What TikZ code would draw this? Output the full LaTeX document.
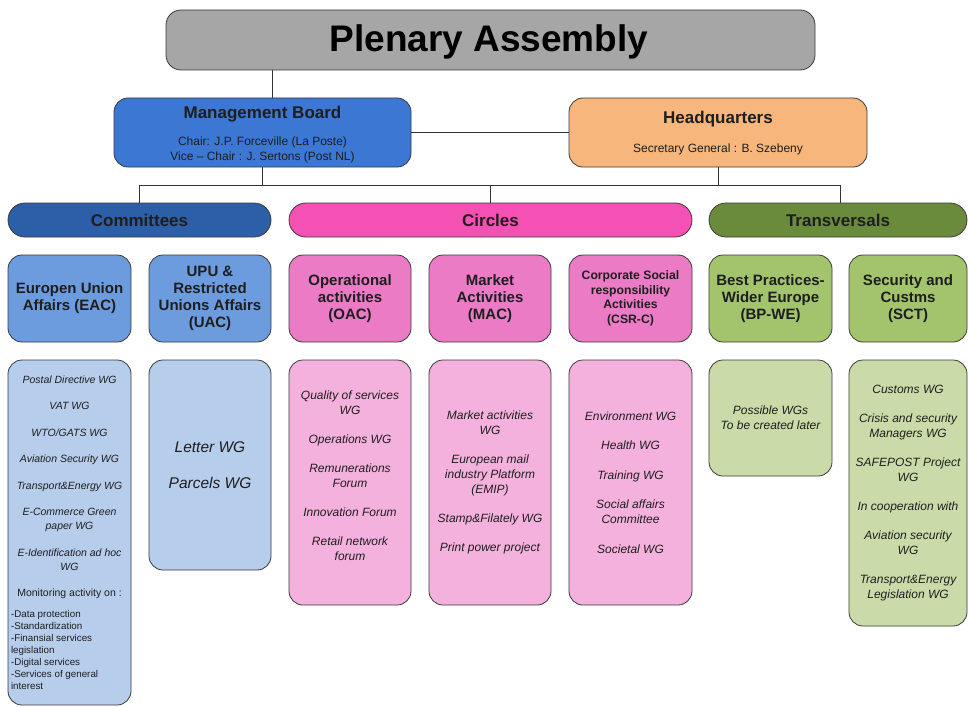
\documentclass[tikz,border=0pt]{standalone}
\usepackage{fontspec}
\setmainfont{Liberation Sans}
\definecolor{plen}{HTML}{A6A6A6}
\definecolor{mbblue}{HTML}{3B77D3}
\definecolor{hqor}{HTML}{F6B67C}
\definecolor{comc}{HTML}{2D5EA8}
\definecolor{circ}{HTML}{F550B3}
\definecolor{trac}{HTML}{6B8B3C}
\definecolor{hdrblue}{HTML}{6C9CDD}
\definecolor{hdrpink}{HTML}{EC7BC6}
\definecolor{hdrgreen}{HTML}{A3C46C}
\definecolor{bodyblue}{HTML}{B7CDEC}
\definecolor{bodypink}{HTML}{F4B1DD}
\definecolor{bodygreen}{HTML}{CADBA9}
\definecolor{bordc}{HTML}{3A3A3A}
\definecolor{txt}{HTML}{1E1E1E}
\definecolor{linec}{HTML}{333333}
\tikzset{
  box/.style={draw=bordc, line width=0.8pt, rounded corners=14pt, align=center, inner sep=0pt, text=txt},
  pill/.style={draw=bordc, line width=0.8pt, rounded corners=17pt, inner sep=0pt, text=txt,
     minimum height=34pt, font=\fontsize{17}{20}\selectfont\bfseries},
  hdr/.style={box, minimum height=87pt, font=\fontsize{15}{17}\selectfont\bfseries},
  body/.style={box, font=\fontsize{12}{15}\selectfont\itshape},
  conn/.style={draw=linec, line width=0.8pt}
}
\begin{document}
\begin{tikzpicture}[x=1pt,y=-1pt]
\useasboundingbox[fill=white] (0,0) rectangle (968,706);

% Top level
\node[box, fill=plen, rounded corners=15pt, minimum width=649pt, minimum height=60pt] (PA) at (490.5,40) {};
\node[anchor=base, font=\fontsize{37}{42}\selectfont\bfseries, text=black] (PAt) at (489,52) {Plenary Assembly};

\node[box, fill=mbblue, minimum width=297pt, minimum height=69pt] (MB) at (262.5,132.5) {};
\node[anchor=base, font=\fontsize{17}{20}\selectfont\bfseries, text=txt] (MBt) at (262.5,118) {Management Board};
\node[align=center, font=\fontsize{12}{15}\selectfont, text=txt, inner sep=0pt] (MBs) at (262.5,150) {Chair: J.P. Forceville (La Poste)\\Vice -- Chair : J. Sertons (Post NL)};

\node[box, fill=hqor, minimum width=298pt, minimum height=69pt] (HQ) at (718,132.5) {};
\node[anchor=base, font=\fontsize{17}{20}\selectfont\bfseries, text=txt] (HQt) at (718,124) {Headquarters};
\node[anchor=base, font=\fontsize{12}{15}\selectfont, text=txt] (HQs) at (718,152) {Secretary General : B. Szebeny};

% Group pills
\node[pill, fill=comc, minimum width=263pt] (COM) at (139.5,220) {Committees};
\node[pill, fill=circ, minimum width=403pt] (CIR) at (490.5,220) {Circles};
\node[pill, fill=trac, minimum width=258pt] (TRA) at (838,220) {Transversals};

% Connectors
\coordinate (bus) at (0,185);
\draw[conn] ([xshift=9.5pt]MB.north) -- ([xshift=9.5pt]MB.north |- PA.south);
\draw[conn] (MB.east) -- (HQ.west);
\draw[conn] (COM.north) -- (COM.north |- bus) -- ([xshift=2.5pt]TRA.north |- bus) -- ([xshift=2.5pt]TRA.north);
\draw[conn] (CIR.north) -- (CIR.north |- bus);
\draw[conn] (MB.south) -- (MB.south |- bus);
\draw[conn] (HQ.south) -- (HQ.south |- bus);

% Header boxes
\node[hdr, fill=hdrblue, minimum width=123pt] (EAC) at (69.5,298.5) {Europen Union\\Affairs (EAC)};
\node[hdr, fill=hdrblue, minimum width=122pt] (UAC) at (210,298.5) {UPU \&\\Restricted\\Unions Affairs\\(UAC)};
\node[hdr, fill=hdrpink, minimum width=122pt] (OAC) at (350,298.5) {Operational\\activities\\(OAC)};
\node[hdr, fill=hdrpink, minimum width=122pt] (MAC) at (490,298.5) {Market\\Activities\\(MAC)};
\node[hdr, fill=hdrpink, minimum width=123pt, font=\fontsize{12.2}{14.5}\selectfont\bfseries] (CSR) at (630.5,298.5) {Corporate Social\\responsibility\\Activities\\(CSR-C)};
\node[hdr, fill=hdrgreen, minimum width=123pt] (BPWE) at (770.5,298.5) {Best Practices-\\Wider Europe\\(BP-WE)};
\node[hdr, fill=hdrgreen, minimum width=118pt] (SCT) at (908,298.5) {Security and\\Custms\\(SCT)};

% Body boxes
\node[box, fill=bodyblue, minimum width=123pt, minimum height=345pt, text width=117pt, align=none] (EACb) at (69.5,532.5) {%
\parindent=0pt
{\centering\fontsize{10.5}{14}\selectfont\itshape
Postal Directive WG\\[12.5pt]
VAT WG\\[12.5pt]
WTO/GATS WG\\[12.5pt]
Aviation Security WG\\[12.5pt]
Transport\&Energy WG\\[12.5pt]
E-Commerce Green\\paper WG\\[12.5pt]
E-Identification ad hoc\\WG\\[12.5pt]
\upshape Monitoring activity on :\par}
\vspace{9pt}
{\raggedright\fontsize{9.8}{12}\selectfont
-Data protection\\-Standardization\\-Finansial services\\legislation\\-Digital services\\-Services of general\\interest\par}};

\node[body, fill=bodyblue, minimum width=122pt, minimum height=210pt, font=\fontsize{15.5}{18}\selectfont\itshape] (UACb) at (210,465) {Letter WG\\[18pt]Parcels WG};

\node[body, fill=bodypink, minimum width=122pt, minimum height=245pt] (OACb) at (350,482.5) {Quality of services\\WG\\[14pt]Operations WG\\[14pt]Remunerations\\Forum\\[14pt]Innovation Forum\\[14pt]Retail network\\forum\\[-1pt]\mbox{}};

\node[body, fill=bodypink, minimum width=122pt, minimum height=245pt] (MACb) at (490,482.5) {Market activities\\WG\\[14pt]European mail\\industry Platform\\(EMIP)\\[14pt]Stamp\&Filately WG\\[14pt]Print power project};

\node[body, fill=bodypink, minimum width=123pt, minimum height=245pt] (CSRb) at (630.5,482.5) {Environment WG\\[14.5pt]Health WG\\[14.5pt]Training WG\\[14.5pt]Social affairs\\Committee\\[14.5pt]Societal WG};

\node[body, fill=bodygreen, minimum width=123pt, minimum height=116pt] (BPWEb) at (770.5,418) {Possible WGs\\To be created later};

\node[body, fill=bodygreen, minimum width=118pt, minimum height=266pt] (SCTb) at (908,493) {Customs WG\\[14pt]Crisis and security\\Managers WG\\[14pt]SAFEPOST Project\\WG\\[14pt]In cooperation with\\[14pt]Aviation security\\WG\\[14pt]Transport\&Energy\\Legislation WG};
\end{tikzpicture}
\end{document}
